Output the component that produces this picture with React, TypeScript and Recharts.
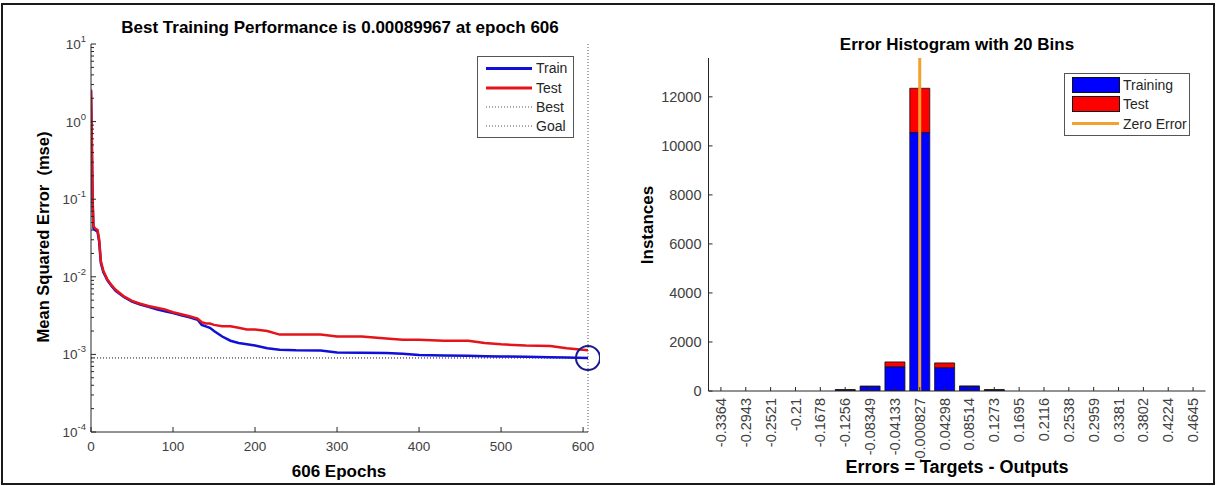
import React from 'react';
import { LineChart, Line, XAxis, YAxis, ReferenceLine, ReferenceDot, Legend, BarChart, Bar } from 'recharts';

const FONT = '"Liberation Sans", Arial, Helvetica, sans-serif';
const AXIS = '#262626';
const TICK_TEXT = '#404040';
const TRAIN_BLUE = '#1010d8';
const TEST_RED = '#e3141b';

// performance curve (log y)
const epochs = [0, 1, 2, 3, 5, 8, 10, 12, 15, 20, 25, 30, 40, 50, 60, 70, 80, 90, 100, 110, 120, 130, 135, 140, 145, 150, 160, 170, 180, 190, 200, 215, 230, 250, 280, 300, 330, 360, 380, 400, 430, 460, 480, 500, 530, 560, 580, 606];
const trainMse = [2.5, 0.5, 0.09, 0.042, 0.04, 0.038, 0.028, 0.015, 0.0115, 0.009, 0.0076, 0.0066, 0.0055, 0.0048, 0.0044, 0.0041, 0.0038, 0.0036, 0.0034, 0.0032, 0.003, 0.0028, 0.0024, 0.0023, 0.0022, 0.002, 0.0017, 0.0015, 0.0014, 0.00135, 0.0013, 0.0012, 0.00115, 0.00113, 0.00112, 0.00106, 0.00105, 0.00104, 0.00102, 0.00098, 0.00097, 0.00096, 0.00095, 0.00094, 0.00093, 0.00092, 0.00091, 0.0009];
const testMse = [2.6, 0.6, 0.1, 0.045, 0.042, 0.04, 0.03, 0.016, 0.012, 0.0092, 0.0078, 0.0068, 0.0056, 0.0049, 0.0045, 0.0042, 0.004, 0.0038, 0.0035, 0.0033, 0.0031, 0.0029, 0.0026, 0.0025, 0.0025, 0.0024, 0.0023, 0.0023, 0.0022, 0.0021, 0.0021, 0.002, 0.0018, 0.0018, 0.0018, 0.0017, 0.0017, 0.0016, 0.00155, 0.00155, 0.0015, 0.0015, 0.0014, 0.00135, 0.0013, 0.00128, 0.0012, 0.00113];
const bestEpoch = 606;
const bestPerf = 0.00089967;
const epochTicks = [0, 100, 200, 300, 400, 500, 600];
const mseTicks = [1e-4, 1e-3, 1e-2, 1e-1, 1, 10];

// error histogram
const binCenters = ['-0.3364', '-0.2943', '-0.2521', '-0.21', '-0.1678', '-0.1256', '-0.08349', '-0.04133', '-0.000827', '0.04298', '0.08514', '0.1273', '0.1695', '0.2116', '0.2538', '0.2959', '0.3381', '0.3802', '0.4224', '0.4645'];
const trainingCounts = [0, 0, 0, 0, 0, 45, 185, 990, 10550, 950, 190, 45, 0, 0, 0, 0, 0, 0, 0, 0];
const testCounts = [0, 0, 0, 0, 0, 8, 15, 195, 1800, 195, 12, 6, 0, 0, 0, 0, 0, 0, 0, 0];
const countTicks = [0, 2000, 4000, 6000, 8000, 10000, 12000];
const zeroErrorBin = '-0.000827';

const perfData = epochs.map((e, i) => ({ epoch: e, train: trainMse[i], test: testMse[i] }));
const histData = binCenters.map((b, i) => ({ bin: b, training: trainingCounts[i], test: testCounts[i] }));

// log axis minor ticks, 2..9 in every decade
const minorMse = mseTicks.slice(0, -1).flatMap((d) => [2, 3, 4, 5, 6, 7, 8, 9].map((k) => d * k));
const allMseTicks = [...mseTicks, ...minorMse];

const MseTick = (props: any) => {
  const { x, y, payload } = props;
  const v = payload.value;
  const major = mseTicks.includes(v);
  const exp = Math.round(Math.log10(v));
  return (
    <g>
      <line x1={x} x2={x + (major ? 5 : 3)} y1={y} y2={y} stroke={AXIS} strokeWidth={1} />
      {major && (
        <text x={x - 5} y={y + 5} textAnchor="end" fontSize={13.5} fill={TICK_TEXT} fontFamily={FONT}>
          10<tspan dy={-7} fontSize={9.5}>{exp}</tspan>
        </text>
      )}
    </g>
  );
};

const EpochTick = (props: any) => {
  const { x, y, payload } = props;
  return (
    <g>
      <line x1={x} x2={x} y1={y} y2={y - 5} stroke={AXIS} strokeWidth={1} />
      <text x={x} y={y + 19} textAnchor="middle" fontSize={13.5} fill={TICK_TEXT} fontFamily={FONT}>{payload.value}</text>
    </g>
  );
};

const CountTick = (props: any) => {
  const { x, y, payload } = props;
  return (
    <g>
      <line x1={x} x2={x + 4} y1={y} y2={y} stroke={AXIS} strokeWidth={1} />
      <text x={x - 7} y={y} dy="0.35em" textAnchor="end" fontSize={14.5} fill={TICK_TEXT} fontFamily={FONT}>{payload.value}</text>
    </g>
  );
};

const BinTick = (props: any) => {
  const { x, y, payload } = props;
  const ty = y + 7;
  return (
    <g>
      <line x1={x} x2={x} y1={y} y2={y - 4} stroke={AXIS} strokeWidth={1} />
      <text x={x} y={ty} dy="0.35em" textAnchor="end" fontSize={14.5} fill={TICK_TEXT} fontFamily={FONT} transform={`rotate(-90, ${x}, ${ty})`}>
        {payload.value}
      </text>
    </g>
  );
};

const PerfLegend = () => (
  <svg width={97} height={82} style={{ display: 'block' }}>
    <rect x={0.5} y={0.5} width={96} height={81} fill="#fff" stroke="#555" />
    <line x1={9} x2={55} y1={12.5} y2={12.5} stroke={TRAIN_BLUE} strokeWidth={3} />
    <line x1={9} x2={55} y1={32} y2={32} stroke={TEST_RED} strokeWidth={3} />
    <line x1={9} x2={55} y1={51} y2={51} stroke="#555" strokeWidth={1} strokeDasharray="1 2" />
    <line x1={9} x2={55} y1={70} y2={70} stroke="#555" strokeWidth={1} strokeDasharray="1 2" />
    {['Train', 'Test', 'Best', 'Goal'].map((t, i) => (
      <text key={t} x={59} y={[12.5, 32, 51, 70][i]} dy="0.35em" fontSize={14} fill="#262626" fontFamily={FONT}>{t}</text>
    ))}
  </svg>
);

const HistLegend = () => (
  <svg width={126} height={63} style={{ display: 'block' }}>
    <rect x={0.5} y={0.5} width={125} height={62} fill="#fff" stroke="#555" />
    <rect x={8.5} y={4.5} width={47} height={15} fill="#0000ff" stroke="#111" />
    <rect x={8.5} y={23.5} width={47} height={15} fill="#ff0000" stroke="#111" />
    <line x1={8} x2={55} y1={50.5} y2={50.5} stroke="#f2a12e" strokeWidth={3} />
    {['Training', 'Test', 'Zero Error'].map((t, i) => (
      <text key={t} x={59} y={[12.5, 31.5, 51][i]} dy="0.35em" fontSize={14} fill="#262626" fontFamily={FONT}>{t}</text>
    ))}
  </svg>
);

const Txt = ({ x, y, text, size = 17, rotate = false }: { x: number; y: number; text: string; size?: number; rotate?: boolean }) => (
  <div
    style={{
      position: 'absolute',
      left: x,
      top: y,
      transform: `translate(-50%, -50%)${rotate ? ' rotate(-90deg)' : ''}`,
      fontSize: size,
      fontWeight: 'bold',
      whiteSpace: 'pre',
      color: '#000',
      lineHeight: 1,
    }}
  >
    {text}
  </div>
);

export default function App() {
  return (
    <div style={{ position: 'absolute', left: 0, top: 0, width: 1217, height: 486, background: '#fff', fontFamily: FONT, overflow: 'hidden' }}>
      <div style={{ position: 'absolute', left: 1, top: 3, width: 1214, height: 482, border: '2px solid #1a1a1a', boxSizing: 'border-box' }} />

      <div style={{ position: 'absolute', left: 0, top: 0 }}>
        <LineChart width={600} height={486} data={perfData} margin={{ top: 44, right: 12, bottom: 24, left: 31 }}>
          <XAxis
            dataKey="epoch"
            type="number"
            domain={[0, 606]}
            ticks={epochTicks}
            interval={0}
            tick={EpochTick}
            tickLine={false}
            tickSize={0}
            tickMargin={0}
            height={30}
            stroke={AXIS}
            allowDataOverflow
          />
          <YAxis
            type="number"
            scale="log"
            domain={[1e-4, 10]}
            ticks={allMseTicks}
            interval={0}
            tick={MseTick}
            tickLine={false}
            tickSize={0}
            tickMargin={0}
            width={60}
            stroke={AXIS}
            allowDataOverflow
          />
          <ReferenceLine y={bestPerf} stroke="#111" strokeWidth={1} strokeDasharray="1 2" />
          <ReferenceLine x={bestEpoch} stroke="#555" strokeWidth={1} strokeDasharray="1 2" />
          <Line dataKey="train" type="linear" stroke={TRAIN_BLUE} strokeWidth={2.5} dot={false} isAnimationActive={false} />
          <Line dataKey="test" type="linear" stroke={TEST_RED} strokeWidth={2.5} dot={false} isAnimationActive={false} />
          <ReferenceDot x={bestEpoch} y={bestPerf} r={12} fill="none" stroke="#1a1a8c" strokeWidth={2} ifOverflow="visible" />
          <Legend layout="vertical" align="center" verticalAlign="middle" content={PerfLegend} wrapperStyle={{ left: 477, top: 56, width: 97 }} />
        </LineChart>
      </div>

      <div style={{ position: 'absolute', left: 600, top: 0 }}>
        <BarChart width={617} height={486} data={histData} margin={{ top: 58, right: 11.5, bottom: 35, left: 48.5 }} barCategoryGap="10%">
          <XAxis dataKey="bin" interval={0} tick={BinTick} tickLine={false} tickSize={0} tickMargin={0} height={60} stroke={AXIS} />
          <YAxis
            type="number"
            domain={[0, 13585]}
            ticks={countTicks}
            interval={0}
            tick={CountTick}
            tickLine={false}
            tickSize={0}
            tickMargin={0}
            width={60}
            stroke={AXIS}
            allowDataOverflow
          />
          <Bar dataKey="training" stackId="h" fill="#0000ff" stroke="#111" strokeWidth={0.8} isAnimationActive={false} />
          <Bar dataKey="test" stackId="h" fill="#ff0000" stroke="#111" strokeWidth={0.8} isAnimationActive={false} />
          <ReferenceLine x={zeroErrorBin} stroke="#f2a12e" strokeWidth={3} />
          <Legend layout="vertical" align="center" verticalAlign="middle" content={HistLegend} wrapperStyle={{ left: 464, top: 73, width: 126 }} />
        </BarChart>
      </div>

      <Txt x={340} y={27} text="Best Training Performance is 0.00089967 at epoch 606" />
      <Txt x={339} y={471} text="606 Epochs" />
      <Txt x={43} y={237} text="Mean Squared Error  (mse)" size={16.5} rotate />
      <Txt x={957} y={44} text="Error Histogram with 20 Bins" />
      <Txt x={957} y={467} text="Errors = Targets - Outputs" size={18} />
      <Txt x={647} y={225} text="Instances" rotate />
    </div>
  );
}
